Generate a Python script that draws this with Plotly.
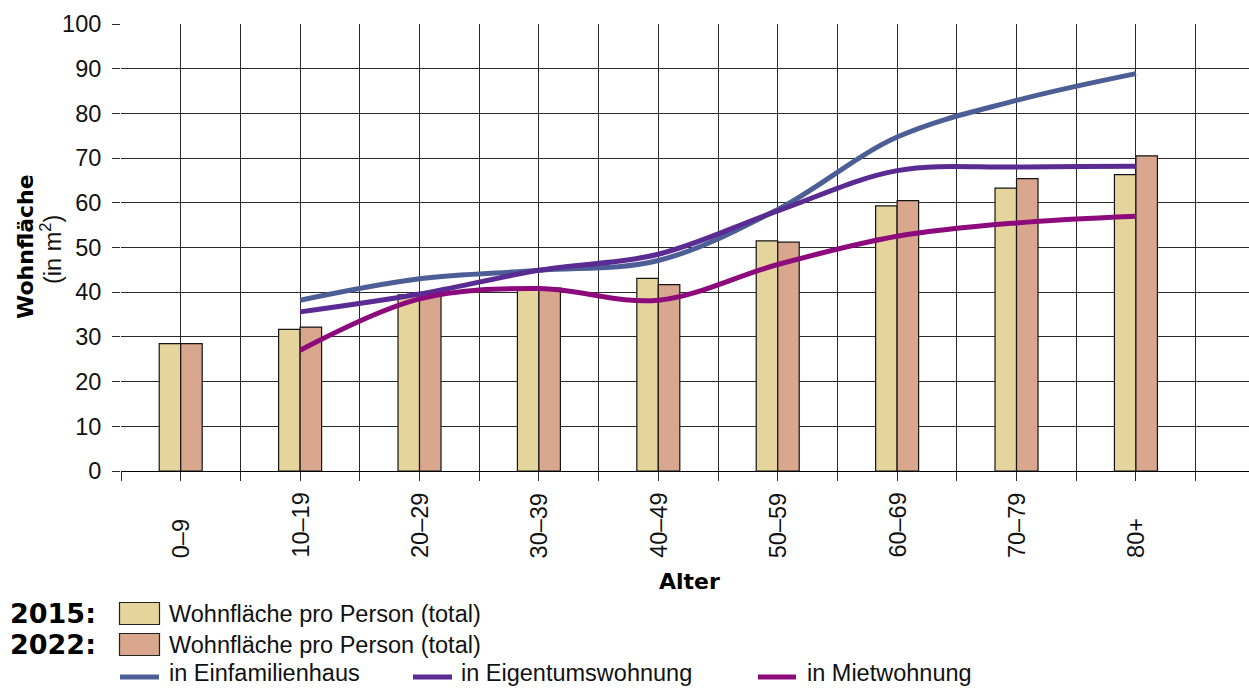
import plotly.graph_objects as go

# ---------------- data ----------------
categories = ["0–9", "10–19", "20–29", "30–39", "40–49", "50–59", "60–69", "70–79", "80+"]
wohnflaeche_2015 = [28.5, 31.7, 39.4, 40.9, 43.1, 51.5, 59.3, 63.3, 66.3]
wohnflaeche_2022 = [28.5, 32.2, 39.5, 40.9, 41.7, 51.2, 60.5, 65.4, 70.5]
einfamilienhaus = [None, 38.2, 43.0, 44.9, 47.1, 58.5, 74.7, 82.9, 88.9]
eigentumswohnung = [None, 35.6, 39.6, 44.9, 48.5, 58.2, 67.2, 68.0, 68.2]
mietwohnung = [None, 27.0, 38.5, 40.8, 38.2, 46.2, 52.5, 55.5, 57.0]
y_ticks = [0, 10, 20, 30, 40, 50, 60, 70, 80, 90, 100]

legend_bar_label = "Wohnfläche pro Person (total)"
line_labels = ["in Einfamilienhaus", "in Eigentumswohnung", "in Mietwohnung"]

# ---------------- styles ----------------
C2015 = "#E5D49C"
C2022 = "#D9A68E"
C_EFH = "#4D5E96"
C_ETW = "#5A2B92"
C_MW = "#8C0A7C"
GRID = "#2a2a2a"
FONT = "Liberation Sans, Arial, Helvetica, sans-serif"
BOLD = "DejaVu Sans, Arial Black, sans-serif"
FS = 23.5

W, H = 1249, 688
L, R, T, B = 121, 0, 24, 217
PW, PH = W - L - R, H - T - B
BOTTOM = H - B


def px(xp):
    return (xp - L) / PW


def py(yp):
    return (BOTTOM - yp) / PH


fig = go.Figure()

bar_line = dict(color="#151515", width=1.2)
fig.add_trace(go.Bar(x=categories, y=wohnflaeche_2015, name="2015",
                     marker=dict(color=C2015, line=bar_line), showlegend=False))
fig.add_trace(go.Bar(x=categories, y=wohnflaeche_2022, name="2022",
                     marker=dict(color=C2022, line=bar_line), showlegend=False))

for vals, col, nm in [(einfamilienhaus, C_EFH, line_labels[0]),
                      (eigentumswohnung, C_ETW, line_labels[1]),
                      (mietwohnung, C_MW, line_labels[2])]:
    fig.add_trace(go.Scatter(x=categories, y=vals, mode="lines", name=nm,
                             line=dict(color=col, width=5, shape="spline", smoothing=1.0),
                             xaxis="x2", showlegend=False))

xrange = [-0.5, 8.947]
common_x = dict(type="category", categoryorder="array", categoryarray=categories,
                range=xrange, showgrid=True, gridcolor=GRID, gridwidth=1,
                ticks="outside", ticklen=9, tickcolor=GRID, tickwidth=1,
                showticklabels=False, zeroline=False, showline=False, fixedrange=True)

annotations = []
for c in categories:
    annotations.append(dict(x=c, xref="x", y=py(560), yref="paper", text=c,
                            textangle=-90, xanchor="center", yanchor="bottom",
                            showarrow=False, font=dict(family=FONT, size=FS, color="#111")))

annotations += [
    dict(x=px(689), y=py(581), xref="paper", yref="paper", text="<b>Alter</b>",
         showarrow=False, xanchor="center", yanchor="middle",
         font=dict(family=BOLD, size=22, color="#000")),
    dict(x=px(25), y=py(247), xref="paper", yref="paper", text="<b>Wohnfläche</b>",
         textangle=-90, showarrow=False, xanchor="center", yanchor="middle",
         font=dict(family=BOLD, size=22, color="#000")),
    dict(x=px(51), y=py(250), xref="paper", yref="paper", text="(in m<sup>2</sup>)",
         textangle=-90, showarrow=False, xanchor="center", yanchor="middle",
         font=dict(family=FONT, size=FS, color="#111")),
]

shapes = []
rows = [(613.5, "2015:", C2015), (644.5, "2022:", C2022)]
for yc, lab, col in rows:
    annotations.append(dict(x=px(8), y=py(yc), xref="paper", yref="paper", text=f"<b>{lab}</b>",
                            showarrow=False, xanchor="left", yanchor="middle",
                            font=dict(family=BOLD, size=27, color="#000")))
    shapes.append(dict(type="rect", xref="paper", yref="paper",
                       x0=px(119.5), x1=px(159.5), y0=py(yc - 11), y1=py(yc + 11),
                       fillcolor=col, line=dict(color="#222", width=1.2)))
    annotations.append(dict(x=px(167), y=py(yc), xref="paper", yref="paper", text=legend_bar_label,
                            showarrow=False, xanchor="left", yanchor="middle",
                            font=dict(family=FONT, size=FS, color="#111")))

yl = 677
for (x0, x1, tx), col, lab in zip([(120, 159, 167), (413, 452, 459), (758, 796, 805)],
                                  [C_EFH, C_ETW, C_MW], line_labels):
    shapes.append(dict(type="line", xref="paper", yref="paper",
                       x0=px(x0), x1=px(x1), y0=py(yl), y1=py(yl),
                       line=dict(color=col, width=5)))
    annotations.append(dict(x=px(tx), y=py(687.5), xref="paper", yref="paper", text=lab,
                            showarrow=False, xanchor="left", yanchor="bottom",
                            font=dict(family=FONT, size=FS, color="#111")))

fig.update_layout(
    width=W, height=H, autosize=False,
    margin=dict(l=L, r=R, t=T, b=B, pad=0),
    paper_bgcolor="white", plot_bgcolor="white",
    barmode="group", bargap=0.64, bargroupgap=0.0,
    xaxis=dict(**common_x, tickson="labels"),
    xaxis2=dict(**common_x, tickson="boundaries", overlaying="x", side="bottom"),
    yaxis=dict(range=[0, 100], tickvals=y_ticks, showgrid=True, gridcolor=GRID, gridwidth=1,
               zeroline=True, zerolinecolor="#000", zerolinewidth=1.2,
               ticks="outside", ticklen=8, tickcolor=GRID, tickwidth=1,
               ticklabelstandoff=6,
               tickfont=dict(family=FONT, size=FS, color="#111"), fixedrange=True),
    annotations=annotations,
    shapes=shapes,
    showlegend=False,
)

fig.write_html("out.html", config={"displayModeBar": False})
